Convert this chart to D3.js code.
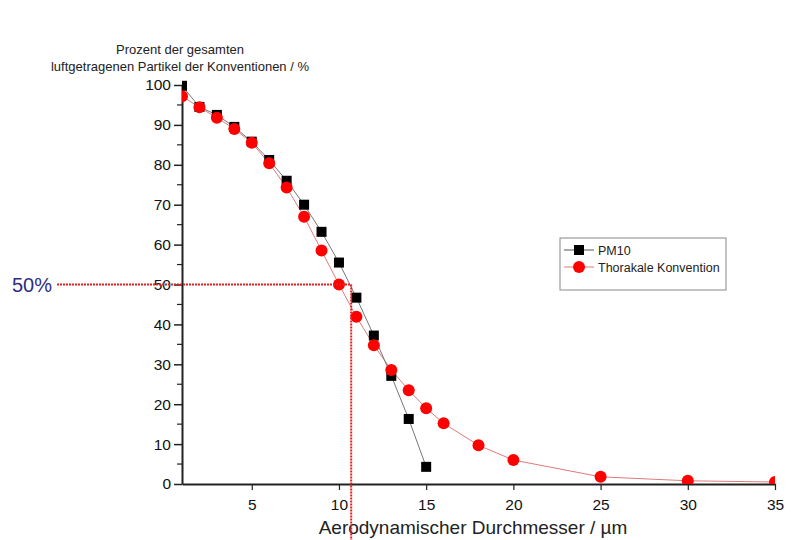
<!DOCTYPE html>
<html>
<head>
<meta charset="utf-8">
<script src="https://cdn.jsdelivr.net/npm/d3@7"></script>
<style>
  body { margin: 0; background: #fff; }
  svg { font-family: "Liberation Sans", Arial, sans-serif; }
  .axis path, .axis line { stroke: #222; }
  .axis text { font-size: 15.5px; fill: #111; }
</style>
</head>
<body>
<div id="chart"></div>
<script>
// PM10 vs thoracic convention - d3 line + markers

var pm10X = [1, 2, 3, 4, 5, 6, 7, 8, 9, 10, 11, 12, 13, 14, 15];
var pm10Y = [99.8, 94.5, 92.5, 89.5, 85.8, 81.2, 76, 70, 63.2, 55.5, 46.7, 37.2, 27.1, 16.3, 4.3];

var thorX = [1, 2, 3, 4, 5, 6, 7, 8, 9, 10, 11, 12, 13, 14, 15, 16, 18, 20, 25, 30, 35];
var thorY = [97.2, 94.4, 91.8, 89, 85.5, 80.4, 74.3, 67, 58.5, 50, 41.9, 34.8, 28.6, 23.5, 19, 15.2, 9.7, 6.0, 1.8, 0.8, 0.5];

var xTicks = [5, 10, 15, 20, 25, 30, 35];
var yTicks = [0, 10, 20, 30, 40, 50, 60, 70, 80, 90, 100];
var seriesNames = ["PM10", "Thorakale Konvention"];
var cut50 = 10.7; // 50% diameter

var width = 793, height = 540;
var plot = {left: 182, right: 775, top: 85, bottom: 484};

var x = d3.scaleLinear().domain([1, 35]).range([plot.left, plot.right]);
var y = d3.scaleLinear().domain([0, 100]).range([plot.bottom, plot.top]);

var svg = d3.select("#chart").append("svg")
    .attr("width", width)
    .attr("height", height);

svg.append("defs").append("clipPath")
    .attr("id", "clip")
    .append("rect")
    .attr("x", plot.left)
    .attr("y", plot.top - 8)
    .attr("width", plot.right - plot.left)
    .attr("height", plot.bottom - plot.top + 8);

//axis
let yAxis = svg.append("g")
    .attr("class", "axis")
    .attr("transform", "translate(" + plot.left + ",0)")
    .call(d3.axisLeft(y).tickValues(yTicks).tickSize(8).tickPadding(3).tickSizeOuter(0));
yAxis.select(".domain").attr("stroke-width", 2);
yAxis.selectAll(".tick line").attr("stroke-width", 1.5);

// minor y ticks
svg.append("g")
    .selectAll("line")
    .data(d3.range(5, 100, 10))
    .enter()
    .append("line")
    .attr("x1", plot.left - 5)
    .attr("x2", plot.left)
    .attr("y1", d => y(d))
    .attr("y2", d => y(d))
    .attr("stroke", "#222")
    .attr("stroke-width", 1.2);

let xAxis = svg.append("g")
    .attr("class", "axis")
    .attr("transform", "translate(0," + plot.bottom + ")")
    .call(d3.axisBottom(x).tickValues(xTicks).tickSize(6).tickPadding(9).tickSizeOuter(0));
xAxis.select(".domain").attr("stroke-width", 2);
xAxis.selectAll(".tick line").attr("stroke-width", 1.2);

// axis titles
svg.append("text")
    .attr("x", 180)
    .attr("y", 54)
    .attr("text-anchor", "middle")
    .style("font-size", "13px")
    .attr("fill", "#222")
    .text("Prozent der gesamten");
svg.append("text")
    .attr("x", 180)
    .attr("y", 71)
    .attr("text-anchor", "middle")
    .style("font-size", "13px")
    .attr("fill", "#222")
    .text("luftgetragenen Partikel der Konventionen / %");

svg.append("text")
    .attr("x", 473)
    .attr("y", 534)
    .attr("text-anchor", "middle")
    .style("font-size", "19px")
    .attr("fill", "#222")
    .text("Aerodynamischer Durchmesser / µm");

// series
var pm10 = pm10X.map((d, i) => [d, pm10Y[i]]);
var thor = thorX.map((d, i) => [d, thorY[i]]);

var line = d3.line().x(d => x(d[0])).y(d => y(d[1]));

var g = svg.append("g").attr("clip-path", "url(#clip)");

g.append("path")
    .datum(thor)
    .attr("d", line)
    .attr("fill", "none")
    .attr("stroke", "#e07a7a")
    .attr("stroke-width", 1);

g.append("path")
    .datum(pm10)
    .attr("d", line)
    .attr("fill", "none")
    .attr("stroke", "#777")
    .attr("stroke-width", 1);

g.append("g")
    .selectAll("rect")
    .data(pm10)
    .enter()
    .append("rect")
    .attr("x", d => x(d[0]) - 5)
    .attr("y", d => y(d[1]) - 5)
    .attr("width", 10)
    .attr("height", 10)
    .attr("fill", "#000");

g.append("g")
    .selectAll("circle")
    .data(thor)
    .enter()
    .append("circle")
    .attr("cx", d => x(d[0]))
    .attr("cy", d => y(d[1]))
    .attr("r", 6)
    .attr("fill", "#f00");

// 50% guide lines
svg.append("line")
    .attr("x1", 57)
    .attr("x2", x(cut50))
    .attr("y1", y(50))
    .attr("y2", y(50))
    .attr("stroke", "#e02020")
    .attr("stroke-width", 2)
    .attr("stroke-dasharray", "2,1");
svg.append("line")
    .attr("x1", x(cut50))
    .attr("x2", x(cut50))
    .attr("y1", y(50))
    .attr("y2", height)
    .attr("stroke", "#e02020")
    .attr("stroke-width", 2)
    .attr("stroke-dasharray", "2,1");

svg.append("text")
    .attr("x", 12)
    .attr("y", y(50) + 7)
    .style("font-size", "20px")
    .attr("fill", "#2e2e80")
    .text("50%");

//legend
var legend = svg.append("g").attr("transform", "translate(560,238)");
legend.append("rect")
    .attr("width", 166)
    .attr("height", 52)
    .attr("fill", "#fff")
    .attr("stroke", "#888")
    .attr("stroke-width", 1);

seriesNames.forEach(function(name, i) {
    let ly = 12 + i * 17;
    legend.append("line")
        .attr("x1", 4)
        .attr("x2", 34)
        .attr("y1", ly)
        .attr("y2", ly)
        .attr("stroke", i == 0 ? "#555" : "#e07a7a");
    if (i == 0) {
        legend.append("rect")
            .attr("x", 14)
            .attr("y", ly - 5)
            .attr("width", 10)
            .attr("height", 10)
            .attr("fill", "#000");
    } else {
        legend.append("circle")
            .attr("cx", 19)
            .attr("cy", ly)
            .attr("r", 6)
            .attr("fill", "#f00");
    }
    legend.append("text")
        .attr("x", 38)
        .attr("y", ly + 4.5)
        .style("font-size", "12.5px")
        .attr("fill", "#222")
        .text(name);
});
</script>
</body>
</html>
